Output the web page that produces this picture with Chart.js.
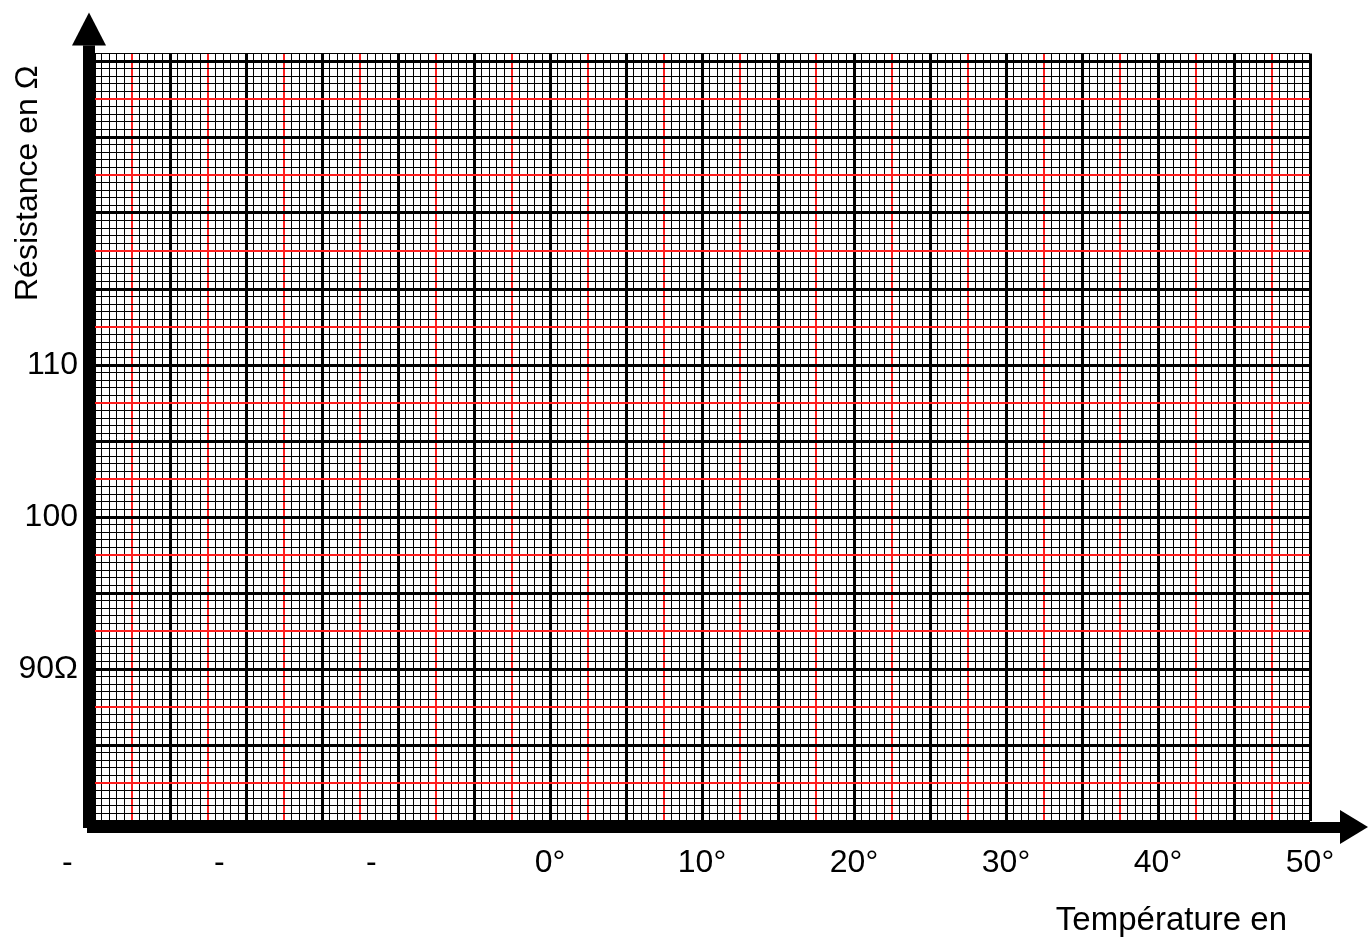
<!DOCTYPE html>
<html lang="fr">
<head>
<meta charset="UTF-8">
<title>Résistance en fonction de la température</title>
<script src="https://cdn.jsdelivr.net/npm/chart.js"></script>
<style>
    body { margin: 0; background: #fff; }
    #wrap { width: 1368px; height: 938px; }
</style>
</head>
<body>
<div id="wrap"><canvas id="paper"></canvas></div>
<script>
// sheet ranges
const tempRange = [-30, 50];      // °C
const resRange = [80, 130.5];     // Ω
const minorStep = 0.5;

// labelled ticks
const tempTicks = [-30, -20, -10, 0, 10, 20, 30, 40, 50];
const tempLabels = ['-', '-', '-', '0°', '10°', '20°', '30°', '40°', '50°'];
const resTicks = [90, 100, 110];
const resLabels = ['90Ω', '100', '110'];

// the sheet is blank, nothing measured yet
const measures = [];

const FONT = '"Liberation Sans", Arial, sans-serif';
Chart.defaults.font.family = FONT;
Chart.defaults.font.size = 32;
Chart.defaults.color = '#000';

// minor every 0.5, red every 2.5, thick every 5
function lineKind(v) {
    const n = Math.round(v / minorStep);
    if (n % 10 === 0) return 'major';
    if (n % 5 === 0) return 'mid';
    return 'minor';
}
const gridColor = ctx => lineKind(ctx.tick.value) === 'mid' ? 'rgb(255,30,30)' : '#000';
const gridWidth = ctx => {
    const k = lineKind(ctx.tick.value);
    return k === 'major' ? 3 : (k === 'mid' ? 2 : 1);
};

function labelFor(values, labels, v) {
    const i = values.findIndex(t => Math.abs(t - v) < 1e-6);
    return i < 0 ? '' : labels[i];
}

// thick axes with arrow heads + axis names
const sheetAxes = {
    id: 'sheetAxes',
    afterDraw(chart) {
        const {ctx, chartArea: a} = chart;
        ctx.save();
        ctx.fillStyle = '#000';

        // vertical axis
        ctx.fillRect(a.left - 11, a.top - 8, 12, a.bottom - a.top + 15);
        ctx.beginPath();
        ctx.moveTo(a.left - 22, a.top - 8);
        ctx.lineTo(a.left - 5, a.top - 41);
        ctx.lineTo(a.left + 12, a.top - 8);
        ctx.closePath();
        ctx.fill();

        // horizontal axis
        ctx.fillRect(a.left - 7, a.bottom + 1, a.right - a.left + 37, 11);
        ctx.beginPath();
        ctx.moveTo(a.right + 30, a.bottom - 11);
        ctx.lineTo(a.right + 58, a.bottom + 6);
        ctx.lineTo(a.right + 30, a.bottom + 23);
        ctx.closePath();
        ctx.fill();

        ctx.font = '33px ' + FONT;
        ctx.textBaseline = 'alphabetic';
        ctx.textAlign = 'right';
        ctx.fillText('Température en', a.right - 23, a.bottom + 109);

        ctx.font = '32px ' + FONT;
        ctx.translate(37, a.top + 12);
        ctx.rotate(-Math.PI / 2);
        ctx.fillText('Résistance en Ω', 0, 0);
        ctx.restore();
    }
};

new Chart(document.getElementById('paper'), {
    type: 'scatter',
    data: {
        datasets: [{
            data: measures,
            pointRadius: 4,
            backgroundColor: '#000'
        }]
    },
    options: {
        responsive: true,
        maintainAspectRatio: false,
        animation: false,
        layout: { padding: { left: 0, top: 53.4, right: 58, bottom: 0 } },
        plugins: { legend: { display: false }, tooltip: { enabled: false } },
        scales: {
            x: {
                type: 'linear',
                min: tempRange[0],
                max: tempRange[1],
                border: { display: false },
                grid: { color: gridColor, lineWidth: gridWidth, drawTicks: false },
                ticks: {
                    stepSize: minorStep,
                    maxTicksLimit: 1000,
                    autoSkip: false,
                    maxRotation: 0,
                    minRotation: 0,
                    padding: 23,
                    // the negative labels only show their sign
                    callback: v => {
                        const s = labelFor(tempTicks, tempLabels, v);
                        return s === '-' ? s + '      ' : s;
                    }
                },
                afterFit: scale => { scale.height = 117; }
            },
            y: {
                type: 'linear',
                min: resRange[0],
                max: resRange[1],
                border: { display: false },
                grid: { color: gridColor, lineWidth: gridWidth, drawTicks: false },
                ticks: {
                    stepSize: minorStep,
                    maxTicksLimit: 1000,
                    autoSkip: false,
                    padding: 16,
                    callback: v => labelFor(resTicks, resLabels, v)
                },
                afterFit: scale => { scale.width = 94; }
            }
        }
    },
    plugins: [sheetAxes]
});
</script>
</body>
</html>
